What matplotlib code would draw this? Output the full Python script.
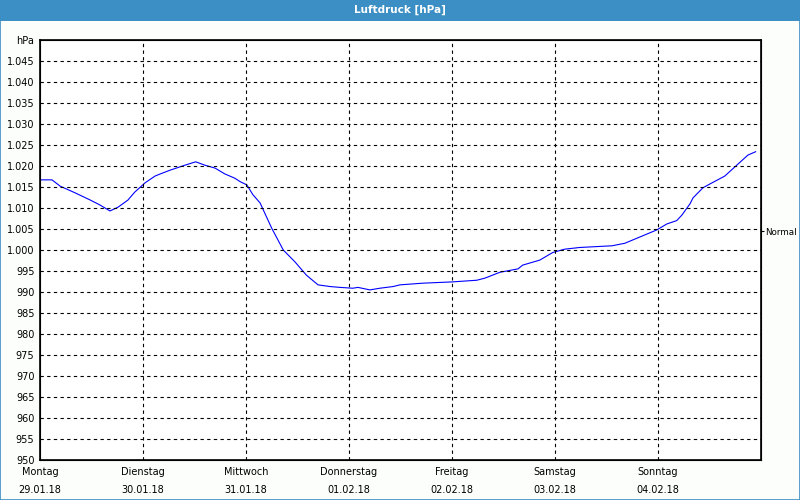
import matplotlib
matplotlib.use('Agg')
from matplotlib import pyplot as plt
from matplotlib.patches import Rectangle

# Stunden ab Montag 00:00 und Luftdruck in hPa
stunden = [0.0, 2.8, 4.7, 8.2, 11.7, 14.0, 16.3, 18.2, 20.5, 22.1, 24.5, 26.8,
           28.0, 30.3, 33.8, 36.3, 38.4, 40.8, 43.1, 45.4, 46.6, 48.2, 49.6,
           51.3, 54.0, 56.7, 59.4, 62.1, 64.8, 67.6, 69.9, 72.9, 74.1, 76.9,
           79.2, 82.3, 83.9, 89.2, 96.0, 101.8, 103.7, 107.2, 111.4, 112.5,
           116.5, 119.5, 122.3, 125.8, 133.3, 136.3, 143.8, 146.1, 148.4,
           149.6, 151.5, 152.2, 154.5, 156.1, 159.6, 162.4, 165.0, 166.8]
druck = [1016.7, 1016.7, 1015.2, 1013.6, 1011.9, 1010.7, 1009.3, 1010.2,
         1011.9, 1013.8, 1016.0, 1017.6, 1018.1, 1019.0, 1020.2, 1021.0,
         1020.2, 1019.5, 1018.1, 1017.1, 1016.3, 1015.5, 1013.2, 1011.2,
         1005.2, 1000.0, 997.2, 994.0, 991.7, 991.3, 991.1, 990.9, 991.1,
         990.5, 990.9, 991.3, 991.7, 992.1, 992.4, 992.8, 993.3, 994.7,
         995.5, 996.4, 997.6, 999.4, 1000.2, 1000.6, 1001.0, 1001.6, 1004.8,
         1006.2, 1007.0, 1008.3, 1011.0, 1012.4, 1014.8, 1015.7, 1017.6,
         1020.2, 1022.6, 1023.4]

tage = ['Montag', 'Dienstag', 'Mittwoch', 'Donnerstag', 'Freitag', 'Samstag', 'Sonntag']
daten = ['29.01.18', '30.01.18', '31.01.18', '01.02.18', '02.02.18', '03.02.18', '04.02.18']
normal = 1005

blau = '#3c8fc4'
fig = plt.figure(figsize=(8, 5), dpi=100, facecolor='#fcfefc')

# Titelleiste und Rahmen
fig.patches.append(Rectangle((0, 0.959), 1, 0.041, transform=fig.transFigure,
                             facecolor=blau, edgecolor='none'))
fig.patches.append(Rectangle((0.0006, 0.001), 0.9988, 0.96, transform=fig.transFigure,
                             facecolor='none', edgecolor=blau, linewidth=1.2))
fig.text(0.5, 0.98, 'Luftdruck [hPa]', color='white', fontsize=7.5,
         fontweight='bold', ha='center', va='center')

ax = fig.add_axes([0.05, 0.08, 0.901, 0.84])
ax.set_facecolor('white')
x = [h / 24 for h in stunden]
ax.plot(x, druck, color='#0000ff', linewidth=0.8)

ax.set_xlim(0, 7)
ax.set_ylim(950, 1050)

yt = list(range(950, 1051, 5))
ylab = [f'{v / 1000:.3f}' if v >= 1000 else str(v) for v in yt]
ylab[-1] = 'hPa'
ax.set_yticks(yt)
ax.set_yticklabels(ylab)
ax.set_xticks(range(7))
ax.set_xticklabels([f'{t}\n{d}' for t, d in zip(tage, daten)], linespacing=2.0)
ax.tick_params(length=0, labelsize=7, pad=5)
ax.tick_params(axis='y', pad=4)

for v in yt[1:-1]:
    ax.axhline(v, color='black', linestyle=(0, (3, 3)), linewidth=0.8)
for d in range(1, 7):
    ax.axvline(d, color='black', linestyle=(0, (3, 3)), linewidth=0.8)
for s in ax.spines.values():
    s.set_linewidth(1.2)

ax2 = ax.twinx()
ax2.set_ylim(950, 1050)
ax2.set_yticks([normal - 0.5])
ax2.set_yticklabels(['Normal'])
ax2.tick_params(length=2, labelsize=6.3, pad=1)

plt.savefig('out.png', dpi=100, facecolor=fig.get_facecolor())
plt.close()
